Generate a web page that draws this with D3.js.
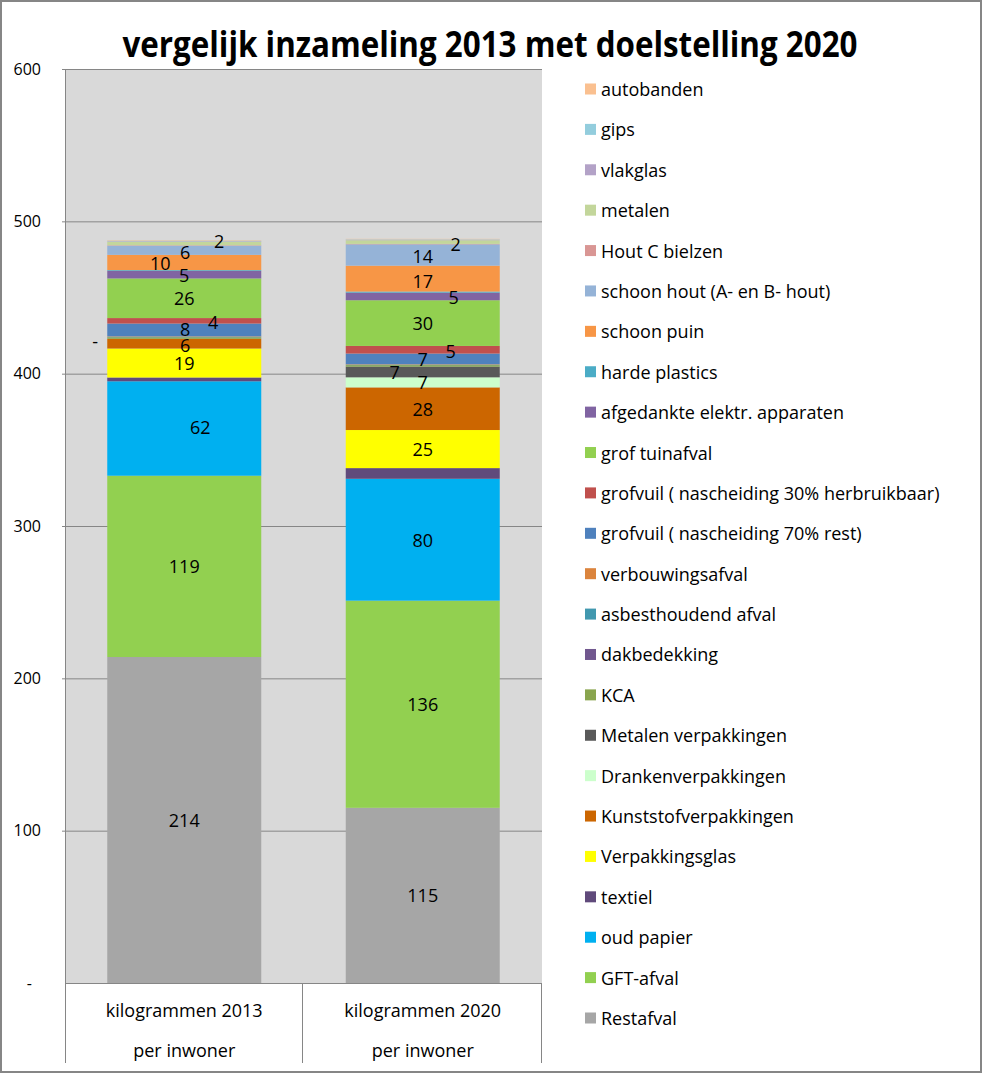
<!DOCTYPE html>
<html><head><meta charset="utf-8">
<script src="https://cdn.jsdelivr.net/npm/d3@7"></script>
<style>
html,body{margin:0;padding:0;background:#fff;}
svg{display:block;}
text{font-family:"Open Sans","Noto Sans",sans-serif;}
</style></head>
<body>
<svg id="chart" width="982" height="1073"></svg>
<script>
// ---------- DATA ----------
const title = "vergelijk inzameling 2013 met doelstelling 2020";
const categories = ["kilogrammen 2013", "kilogrammen 2020"];
const categorySubLabels = ["per inwoner", "per inwoner"];
// series from bottom of the stack to top
const seriesNames = [
  "Restafval", "GFT-afval", "oud papier", "textiel", "Verpakkingsglas",
  "Kunststofverpakkingen", "Drankenverpakkingen", "Metalen verpakkingen", "KCA",
  "dakbedekking", "asbesthoudend afval", "verbouwingsafval",
  "grofvuil ( nascheiding 70% rest)", "grofvuil ( nascheiding 30% herbruikbaar)",
  "grof tuinafval", "afgedankte elektr. apparaten", "harde plastics",
  "schoon puin", "schoon hout (A- en B- hout)", "Hout C bielzen", "metalen",
  "vlakglas", "gips", "autobanden"
];
const seriesColors = [
  "#A6A6A6", "#92D050", "#00B0F0", "#604A7B", "#FFFF00",
  "#CC6600", "#CCFFCC", "#595959", "#89A54E",
  "#71588F", "#4198AF", "#DB843D",
  "#4F81BD", "#C0504D",
  "#92D050", "#8064A2", "#4BACC6",
  "#F79646", "#95B3D7", "#D99694", "#C3D69B",
  "#B3A2C7", "#93CDDD", "#FAC090"
];
const values2013 = [214, 119, 62, 2.5, 19, 6.4, 0, 0, 1, 0, 0.3, 0.3, 8.4, 3.6, 26, 5, 0.5, 10, 6, 0.3, 2.4, 0.3, 0.3, 0.3];
const values2020 = [115, 136, 80, 7, 25, 28, 6.6, 7, 1, 0, 0.3, 0.3, 7, 5, 30, 5, 0.7, 17, 14, 0.3, 2.4, 0.3, 0.3, 0.3];
// series that carry data labels
const labeledSeries = [
  "Restafval", "GFT-afval", "oud papier", "Verpakkingsglas", "Kunststofverpakkingen",
  "Drankenverpakkingen", "Metalen verpakkingen", "grofvuil ( nascheiding 70% rest)",
  "grofvuil ( nascheiding 30% herbruikbaar)", "grof tuinafval",
  "afgedankte elektr. apparaten", "schoon puin", "schoon hout (A- en B- hout)", "metalen"
];
const yTicks = [0, 100, 200, 300, 400, 500, 600];

// ---------- LAYOUT / STYLE ----------
const W = 982, H = 1073;
const plot = {left: 65, right: 542, top: 69, bottom: 983};
const catBoxBottom = 1063;
const FS = 18;
// manual label nudges (pixels), as moved in the original chart
const labelNudges = [
  {s: "oud papier", c: 0, dx: 16, dy: -2},
  {s: "Metalen verpakkingen", c: 0, dx: -89, dy: 2},
  {s: "Kunststofverpakkingen", c: 0, dx: 1, dy: 1},
  {s: "grofvuil ( nascheiding 70% rest)", c: 0, dx: 1, dy: -1},
  {s: "grofvuil ( nascheiding 30% herbruikbaar)", c: 0, dx: 29, dy: 1},
  {s: "schoon puin", c: 0, dx: -24, dy: 1},
  {s: "schoon hout (A- en B- hout)", c: 0, dx: 1, dy: 2},
  {s: "metalen", c: 0, dx: 35, dy: -2},
  {s: "Metalen verpakkingen", c: 1, dx: -28, dy: 0},
  {s: "grofvuil ( nascheiding 30% herbruikbaar)", c: 1, dx: 28, dy: 1},
  {s: "afgedankte elektr. apparaten", c: 1, dx: 31, dy: 1},
  {s: "schoon puin", c: 1, dx: 0, dy: 2},
  {s: "schoon hout (A- en B- hout)", c: 1, dx: 0, dy: 1},
  {s: "metalen", c: 1, dx: 33, dy: 2}
];

const svg = d3.select("#chart");
svg.append("rect").attr("x", 0).attr("y", 0).attr("width", W).attr("height", H).attr("fill", "#fff");

// data rows
const valueSets = [values2013, values2020];
const rows = categories.map((c, i) => {
  const r = {category: c};
  seriesNames.forEach((s, j) => r[s] = valueSets[i][j]);
  return r;
});
const stacked = d3.stack().keys(seriesNames)(rows);

const x = d3.scaleBand().domain(categories).range([plot.left, plot.right])
  .paddingInner(0.3543).paddingOuter(0.1772);
const y = d3.scaleLinear().domain([0, 600]).range([plot.bottom, plot.top]);
const color = d3.scaleOrdinal().domain(seriesNames).range(seriesColors);

// plot background
svg.append("rect").attr("x", plot.left).attr("y", plot.top)
  .attr("width", plot.right - plot.left).attr("height", plot.bottom - plot.top)
  .attr("fill", "#D9D9D9");

// gridlines
svg.append("g").selectAll("line").data(yTicks.filter(d => d > 0)).join("line")
  .attr("x1", plot.left - 3).attr("x2", plot.right)
  .attr("y1", d => y(d) + 0.5).attr("y2", d => y(d) + 0.5)
  .attr("stroke", "#868686").attr("stroke-width", 1);

// y axis labels
const yAxis = d3.axisLeft(y).tickValues(yTicks).tickSize(0).tickPadding(0)
  .tickFormat(d => d === 0 ? "-" : d3.format("d")(d));
const gy = svg.append("g").attr("transform", `translate(${41},0)`).call(yAxis);
gy.select(".domain").remove();
gy.selectAll("text").attr("font-size", 16).attr("fill", "#000")
  .attr("font-family", '"DejaVu Sans", sans-serif')
  .attr("dx", d => d === 0 ? -9 : 0);

// bars
const layer = svg.append("g").selectAll("g").data(stacked).join("g")
  .attr("fill", d => color(d.key));
layer.selectAll("rect").data(d => d.map(p => ({p, key: d.key}))).join("rect")
  .attr("x", d => x(d.p.data.category))
  .attr("width", x.bandwidth())
  .attr("y", d => y(d.p[1]))
  .attr("height", d => Math.max(0, y(d.p[0]) - y(d.p[1])));

// data labels
const labels = [];
stacked.forEach(ser => {
  if (!labeledSeries.includes(ser.key)) return;
  ser.forEach((p, ci) => {
    const v = p[1] - p[0];
    const nudge = labelNudges.find(n => n.s === ser.key && n.c === ci);
    if (v <= 0 && !nudge) return;
    labels.push({
      text: v <= 0 ? "-" : d3.format(".0f")(v),
      cx: x(p.data.category) + x.bandwidth() / 2 + (nudge ? nudge.dx : 0),
      cy: y((p[0] + p[1]) / 2) + (nudge ? nudge.dy : 0)
    });
  });
});
svg.append("g").selectAll("text").data(labels).join("text")
  .attr("x", d => d.cx).attr("y", d => d.cy)
  .attr("text-anchor", "middle").attr("dominant-baseline", "central")
  .attr("font-size", FS).attr("fill", "#000").text(d => d.text);

// left plot border + category box
const frame = svg.append("g").attr("stroke", "#868686").attr("stroke-width", 1).attr("fill", "none");
frame.append("line").attr("x1", plot.left + 0.5).attr("x2", plot.left + 0.5)
  .attr("y1", plot.top).attr("y2", catBoxBottom);
frame.append("line").attr("x1", plot.left).attr("x2", plot.right)
  .attr("y1", plot.bottom + 0.5).attr("y2", plot.bottom + 0.5);
const boundaries = [plot.left + x.step(), plot.right];
frame.selectAll(".vb").data(boundaries).join("line")
  .attr("x1", d => Math.round(d) - 0.5).attr("x2", d => Math.round(d) - 0.5)
  .attr("y1", plot.bottom).attr("y2", catBoxBottom);

// category labels
const xl = svg.append("g");
categories.forEach((c, i) => {
  const cx = x(c) + x.bandwidth() / 2;
  xl.append("text").attr("x", cx).attr("y", 1010).attr("text-anchor", "middle")
    .attr("dominant-baseline", "central").attr("font-size", FS).text(c);
  xl.append("text").attr("x", cx).attr("y", 1050).attr("text-anchor", "middle")
    .attr("dominant-baseline", "central").attr("font-size", FS).text(categorySubLabels[i]);
});

// legend (top = last series)
const legendSeries = seriesNames.slice().reverse();
const ly = d3.scalePoint().domain(legendSeries).range([89, 1018]);
const lg = svg.append("g").selectAll("g").data(legendSeries).join("g")
  .attr("transform", d => `translate(585,${ly(d)})`);
lg.append("rect").attr("x", 0).attr("y", -5.5).attr("width", 11).attr("height", 11)
  .attr("fill", d => color(d));
lg.append("text").attr("x", 16).attr("y", 0).attr("dominant-baseline", "central")
  .attr("font-size", FS).attr("fill", "#000").text(d => d);

// title
svg.append("text").attr("x", 490).attr("y", 43).attr("text-anchor", "middle")
  .attr("dominant-baseline", "central")
  .attr("font-size", 35).attr("font-weight", "bold")
  .attr("textLength", 735).attr("lengthAdjust", "spacingAndGlyphs")
  .text(title);

// outer border
svg.append("rect").attr("x", 1).attr("y", 1).attr("width", W - 2).attr("height", H - 2)
  .attr("fill", "none").attr("stroke", "#868686").attr("stroke-width", 2);
</script>
</body></html>
